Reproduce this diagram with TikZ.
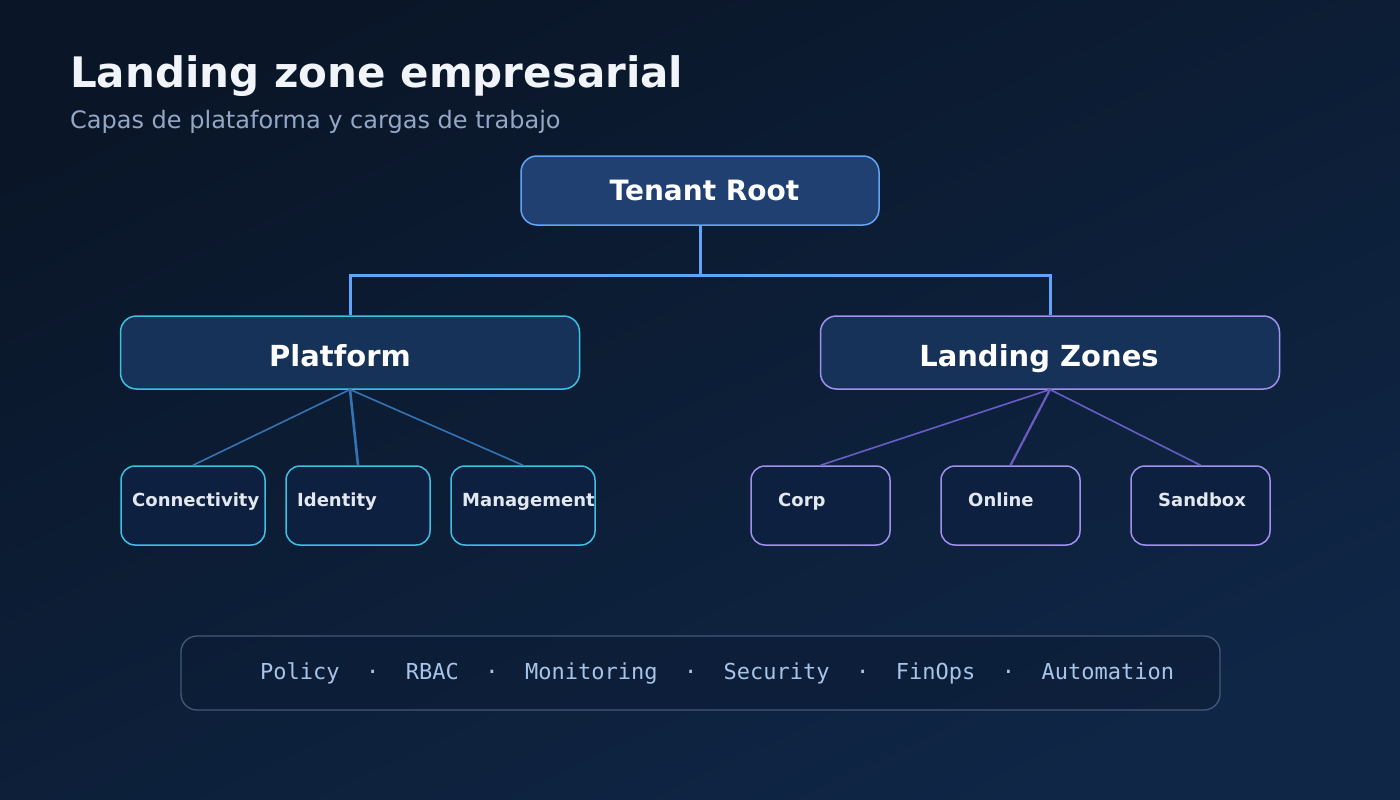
\documentclass[tikz,border=0pt]{standalone}
\usepackage{fontspec}
\setmainfont{DejaVu Sans}
\newfontfamily\monof{DejaVu Sans Mono}
\usetikzlibrary{positioning}
\definecolor{bgA}{HTML}{0A1628}
\definecolor{bgB}{HTML}{0F2646}
\definecolor{rootfill}{HTML}{1F4070}
\definecolor{rootline}{HTML}{60A5FA}
\definecolor{midfill}{HTML}{163258}
\definecolor{cyanline}{HTML}{3CC0E4}
\definecolor{purpline}{HTML}{A090F0}
\definecolor{kidfill}{HTML}{0E2040}
\definecolor{cyanconn}{HTML}{3474B4}
\definecolor{purpconn}{HTML}{6A5CC4}
\definecolor{titlec}{HTML}{F1F5F9}
\definecolor{subc}{HTML}{94A8C6}
\definecolor{kidtext}{HTML}{E2E8F0}
\definecolor{barline}{HTML}{46587A}
\definecolor{barfill}{HTML}{0C1C36}
\definecolor{bartext}{HTML}{A8C4E6}
\tikzset{
  box/.style={draw, rounded corners=16pt, line width=1.5pt, inner sep=0pt},
  rootbox/.style={box, fill=rootfill, draw=rootline, minimum width=358pt, minimum height=69pt},
  platbox/.style={box, fill=midfill, draw=cyanline, minimum width=459pt, minimum height=73pt},
  lzbox/.style={box, fill=midfill, draw=purpline, minimum width=459pt, minimum height=73pt},
  kidbox/.style={box, rounded corners=14pt, fill=kidfill, minimum width=144pt, minimum height=79pt},
  ckid/.style={kidbox, draw=cyanline},
  pkid/.style={kidbox, draw=purpline, minimum width=139pt},
  bigtext/.style={font=\bfseries\fontsize{29}{33}\selectfont, text=white, anchor=base},
  kidlabel/.style={font=\bfseries\fontsize{18}{22}\selectfont, text=kidtext, anchor=base west, inner sep=0pt},
  busline/.style={draw=rootline, line width=3pt},
  cconn/.style={draw=cyanconn, line width=1.6pt},
  pconn/.style={draw=purpconn, line width=1.6pt},
}
\begin{document}
\begin{tikzpicture}[x=1pt,y=-1pt]
\shade[shading=axis, top color=bgA, bottom color=bgB, shading angle=25] (0,0) rectangle (1400,800);
\useasboundingbox (0,0) rectangle (1400,800);

\node[anchor=base west, inner sep=0pt, text=titlec, font=\bfseries\fontsize{42}{48}\selectfont] (title) at (70,87) {Landing zone empresarial};
\node[anchor=base west, inner sep=0pt, text=subc, font=\fontsize{24}{28}\selectfont] (subtitle) at (70,128) {Capas de plataforma y cargas de trabajo};

% boxes
\node[rootbox] (root) at (700,190.5) {};
\node[bigtext, font=\bfseries\fontsize{28}{32}\selectfont] (rootlbl) at (704.5,200) {Tenant Root};
\node[platbox] (plat) at (350,352.5) {};
\node[bigtext] (platlbl) at (340,366) {Platform};
\node[lzbox] (lz) at (1050,352.5) {};
\node[bigtext] (lzlbl) at (1039,366) {Landing Zones};

% connectors from root
\coordinate (bus) at (700,275);
\draw[busline] (root.south) -- (bus);
\draw[busline] (plat.north) |- (bus) -| (lz.north);

% children platform
\node[ckid] (conn) at (193,505.5) {};
\node[ckid] (iden) at (358,505.5) {};
\node[ckid] (mgmt) at (523,505.5) {};
\node[kidlabel] (connlbl) at (132,506.5) {Connectivity};
\node[kidlabel] (idenlbl) at (297,506.5) {Identity};
\node[kidlabel] (mgmtlbl) at (462,506.5) {Management};

% children landing zones
\node[pkid] (corp) at (820.5,505.5) {};
\node[pkid] (onl) at (1010.5,505.5) {};
\node[pkid] (sand) at (1200.5,505.5) {};
\node[kidlabel] (corplbl) at (778,506.5) {Corp};
\node[kidlabel] (onllbl) at (968,506.5) {Online};
\node[kidlabel] (sandlbl) at (1158,506.5) {Sandbox};

\coordinate (pbot) at (350,389.5);
\coordinate (lbot) at (1050,389.5);
\draw[cconn] (pbot) -- (conn.north);
\draw[cconn, line width=2.6pt] (pbot) -- (iden.north);
\draw[cconn] (pbot) -- (mgmt.north);
\draw[pconn] (lbot) -- (corp.north);
\draw[pconn, line width=2.2pt] (lbot) -- (onl.north);
\draw[pconn] (lbot) -- (sand.north);

% bottom bar
\node[box, rounded corners=16pt, line width=1.3pt, draw=barline, fill=barfill, fill opacity=0.6, minimum width=1039pt, minimum height=74pt] (bar) at (700.5,673) {};
\node[anchor=base west, inner sep=0pt, text=bartext, font=\monof\fontsize{22}{26}\selectfont] (barlbl) at (260,679) {Policy~~·~~RBAC~~·~~Monitoring~~·~~Security~~·~~FinOps~~·~~Automation};
\end{tikzpicture}
\end{document}
